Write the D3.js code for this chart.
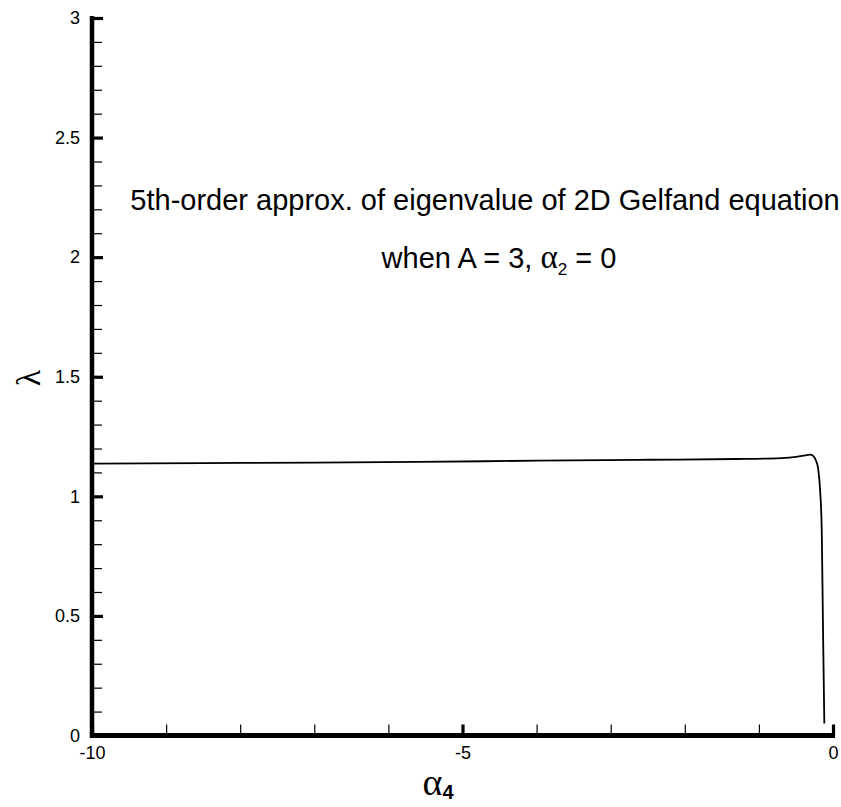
<!DOCTYPE html>
<html>
<head>
<meta charset="utf-8">
<script src="https://cdn.jsdelivr.net/npm/d3@7/dist/d3.min.js"></script>
<style>
  html, body { margin: 0; padding: 0; background: #fff; }
  svg { display: block; }
  .tick text { font-family: "Liberation Sans", Arial, sans-serif; font-size: 18px; fill: #000; }
</style>
</head>
<body>
<svg id="chart" width="841" height="807"></svg>
<script>
// 5th-order approximation of the eigenvalue λ versus α4
const alpha4 = [-10, -8.5, -7, -5.6, -4, -2.5, -1.3, -0.7, -0.5, -0.4, -0.31, -0.27, -0.23, -0.2, -0.175, -0.152, -0.135, -0.117];
const lambda = [1.137, 1.139, 1.141, 1.144, 1.149, 1.153, 1.156, 1.160, 1.165, 1.170, 1.174, 1.170, 1.150, 1.115, 1.03, 0.86, 0.45, 0.05];

const xMajorTicks = [-10, -5, 0];
const xMinorTicks = [-9, -8, -7, -6, -4, -3, -2, -1];
const yMajorTicks = [0, 0.5, 1, 1.5, 2, 2.5, 3];
const yMinorTicks = d3.range(0, 30).map(i => i / 10).filter(v => Math.abs(v * 2 - Math.round(v * 2)) > 1e-6);

const titleLine1 = "5th-order approx. of eigenvalue of 2D Gelfand equation";

const svg = d3.select("#chart");
const x = d3.scaleLinear().domain([-10, 0]).range([92, 833]);
const y = d3.scaleLinear().domain([0, 3]).range([735.5, 18]);

const fmt = v => (v === 0 ? "0" : String(v));

// minor ticks
svg.append("g").attr("transform", `translate(${x.range()[0]},0)`)
  .call(d3.axisLeft(y).tickValues(yMinorTicks).tickSize(-10).tickFormat(""))
  .call(g => g.select(".domain").remove())
  .call(g => g.selectAll(".tick line").attr("stroke", "#000").attr("stroke-width", 1.2));
svg.append("g").attr("transform", `translate(0,${y.range()[0]})`)
  .call(d3.axisBottom(x).tickValues(xMinorTicks).tickSize(-11).tickFormat(""))
  .call(g => g.select(".domain").remove())
  .call(g => g.selectAll(".tick line").attr("stroke", "#000").attr("stroke-width", 1.2));

// major ticks with labels
svg.append("g").attr("transform", `translate(${x.range()[0]},0)`)
  .call(d3.axisLeft(y).tickValues(yMajorTicks).tickSize(-11).tickPadding(12).tickFormat(fmt))
  .call(g => g.select(".domain").remove())
  .call(g => g.selectAll(".tick line").attr("stroke", "#000").attr("stroke-width", 3.2));
svg.append("g").attr("transform", `translate(0,${y.range()[0]})`)
  .call(d3.axisBottom(x).tickValues(xMajorTicks).tickSize(-11).tickPadding(12).tickFormat(fmt))
  .call(g => g.select(".domain").remove())
  .call(g => g.selectAll(".tick line").attr("stroke", "#000").attr("stroke-width", 3.2))
  .call(g => g.selectAll(".tick text").attr("dy", "0.65em"));

// axis lines
svg.append("line")
  .attr("x1", x.range()[0]).attr("x2", x.range()[0])
  .attr("y1", y.range()[1] - 2).attr("y2", y.range()[0] + 2.5)
  .attr("stroke", "#000").attr("stroke-width", 4.5);
svg.append("line")
  .attr("x1", x.range()[0] - 2).attr("x2", x.range()[1] + 2)
  .attr("y1", y.range()[0]).attr("y2", y.range()[0])
  .attr("stroke", "#000").attr("stroke-width", 5);

// curve
const line = d3.line()
  .x((d, i) => x(alpha4[i]))
  .y((d, i) => y(lambda[i]))
  .curve(d3.curveMonotoneX);
svg.append("path")
  .datum(alpha4)
  .attr("d", line)
  .attr("fill", "none")
  .attr("stroke", "#000")
  .attr("stroke-width", 1.8);

// annotation text
svg.append("text")
  .attr("x", 485).attr("y", 210)
  .attr("text-anchor", "middle")
  .style("font-family", '"Liberation Sans", Arial, sans-serif')
  .style("font-size", "29px")
  .text(titleLine1);

const t2 = svg.append("text")
  .attr("x", 499).attr("y", 268)
  .attr("text-anchor", "middle")
  .style("font-family", '"Liberation Sans", Arial, sans-serif')
  .style("font-size", "29px");
t2.append("tspan").text("when A = 3, ");
t2.append("tspan").style("font-family", '"Liberation Serif", "Times New Roman", serif').style("font-size", "33px").text("α");
t2.append("tspan").attr("dy", 7).style("font-size", "17px").text("2");
t2.append("tspan").attr("dy", -7).text(" = 0");

// axis titles
svg.append("text")
  .attr("transform", "translate(40,378) rotate(-90)")
  .attr("text-anchor", "middle")
  .style("font-family", '"Liberation Serif", "Times New Roman", serif')
  .style("font-size", "34px")
  .text("λ");

const xt = svg.append("text")
  .attr("x", 438).attr("y", 795)
  .attr("text-anchor", "middle")
  .style("font-family", '"Liberation Serif", "Times New Roman", serif')
  .style("font-size", "38px");
xt.append("tspan").text("α");
xt.append("tspan").attr("dy", 4)
  .style("font-family", '"Liberation Sans", Arial, sans-serif')
  .style("font-weight", "bold").style("font-size", "20px").text("4");
</script>
</body>
</html>
